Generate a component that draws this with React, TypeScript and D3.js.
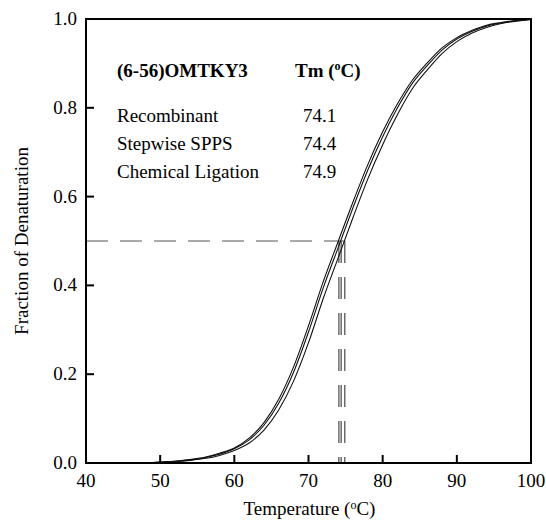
import * as d3 from "d3";
import React from "react";
import { useRef, useEffect } from "react";

// temperatures where the curves were read (ºC)
const temps = [48, 50, 52, 54, 56, 58, 60, 62, 64, 66, 68, 70, 72, 74, 76, 78, 80, 82, 84, 86, 88, 90, 92, 94, 96, 98, 100];

// fraction of denaturation
const recombinant = [0.0, 0.002, 0.004, 0.008, 0.013, 0.022, 0.034, 0.056, 0.091, 0.144, 0.217, 0.309, 0.409, 0.499, 0.588, 0.672, 0.746, 0.809, 0.862, 0.901, 0.935, 0.958, 0.974, 0.986, 0.992, 0.997, 0.999];
const stepwise = [0.0, 0.002, 0.004, 0.007, 0.012, 0.02, 0.032, 0.052, 0.085, 0.135, 0.205, 0.295, 0.395, 0.485, 0.575, 0.66, 0.735, 0.8, 0.855, 0.895, 0.93, 0.955, 0.972, 0.984, 0.991, 0.996, 0.999];
const ligation = [0.0, 0.001, 0.003, 0.006, 0.01, 0.017, 0.028, 0.045, 0.074, 0.12, 0.185, 0.271, 0.371, 0.462, 0.553, 0.64, 0.717, 0.785, 0.843, 0.885, 0.922, 0.949, 0.968, 0.981, 0.99, 0.995, 0.999];

// legend table
const names = ["Recombinant", "Stepwise SPPS", "Chemical Ligation"];
const tms = [74.1, 74.4, 74.9];

const xTicks = [40, 50, 60, 70, 80, 90, 100];
const yTicks = [0, 0.2, 0.4, 0.6, 0.8, 1.0];

const width = 546;
const height = 521;
const margin = { left: 86, right: 15, top: 19, bottom: 58 };

export default function App() {
  const ref = useRef(null);

  useEffect(() => {
    const svg = d3.select(ref.current);
    svg.selectAll("*").remove();
    const font = "'Liberation Serif', 'Times New Roman', serif";
    const fs = 19;

    const x = d3.scaleLinear().domain([40, 100]).range([margin.left, width - margin.right]);
    const y = d3.scaleLinear().domain([0, 1]).range([height - margin.bottom, margin.top]);

    // dashed guide lines at half denaturation
    svg.append("line")
      .attr("x1", x(40)).attr("x2", x(d3.max(tms)))
      .attr("y1", y(0.5)).attr("y2", y(0.5))
      .attr("stroke", "#555").attr("stroke-width", 1)
      .attr("stroke-dasharray", "22,12");
    svg.selectAll(".vdash").data(tms).enter().append("line")
      .attr("class", "vdash")
      .attr("x1", (d) => x(d)).attr("x2", (d) => x(d))
      .attr("y1", y(0.5)).attr("y2", y(0))
      .attr("stroke", "#222").attr("stroke-width", 1)
      .attr("stroke-dasharray", "22,14");

    // curves
    const line = d3.line()
      .x((d) => x(d[0]))
      .y((d) => y(d[1]))
      .curve(d3.curveMonotoneX);
    [recombinant, stepwise, ligation].forEach((vals) => {
      svg.append("path")
        .datum(temps.map((t, i) => [t, vals[i]]))
        .attr("d", line)
        .attr("fill", "none")
        .attr("stroke", "#111")
        .attr("stroke-width", 1.1);
    });

    // frame
    svg.append("rect")
      .attr("x", x(40)).attr("y", y(1))
      .attr("width", x(100) - x(40)).attr("height", y(0) - y(1))
      .attr("fill", "none").attr("stroke", "#000").attr("stroke-width", 2);

    // inward ticks
    const tickLen = 8;
    svg.selectAll(".xt").data(xTicks.slice(1, -1)).enter().append("line")
      .attr("x1", (d) => x(d)).attr("x2", (d) => x(d))
      .attr("y1", y(0)).attr("y2", y(0) - tickLen)
      .attr("stroke", "#000").attr("stroke-width", 2);
    svg.selectAll(".yt").data(yTicks.slice(1, -1)).enter().append("line")
      .attr("x1", x(40)).attr("x2", x(40) + tickLen)
      .attr("y1", (d) => y(d)).attr("y2", (d) => y(d))
      .attr("stroke", "#000").attr("stroke-width", 2);

    // tick labels
    svg.selectAll(".xl").data(xTicks).enter().append("text")
      .attr("x", (d) => x(d)).attr("y", y(0) + 24)
      .attr("text-anchor", "middle")
      .attr("font-family", font).attr("font-size", fs)
      .text((d) => d);
    svg.selectAll(".yl").data(yTicks).enter().append("text")
      .attr("x", x(40) - 9).attr("y", (d) => y(d) + 6)
      .attr("text-anchor", "end")
      .attr("font-family", font).attr("font-size", fs)
      .text((d) => d3.format(".1f")(d));

    // axis titles
    const xt = svg.append("text")
      .attr("x", (x(40) + x(100)) / 2 + 1).attr("y", 515)
      .attr("text-anchor", "middle")
      .attr("font-family", font).attr("font-size", fs);
    xt.append("tspan").text("Temperature (");
    xt.append("tspan").attr("font-size", 12).attr("dy", -6).text("o");
    xt.append("tspan").attr("dy", 6).text("C)");

    svg.append("text")
      .attr("transform", `translate(28,${(y(0) + y(1)) / 2}) rotate(-90)`)
      .attr("text-anchor", "middle")
      .attr("font-family", font).attr("font-size", fs)
      .text("Fraction of Denaturation");

    // legend table
    svg.append("text")
      .attr("x", 117).attr("y", 77)
      .attr("font-family", font).attr("font-size", fs).attr("font-weight", "bold")
      .text("(6-56)OMTKY3");
    const tm = svg.append("text")
      .attr("x", 295).attr("y", 77)
      .attr("font-family", font).attr("font-size", fs).attr("font-weight", "bold");
    tm.append("tspan").text("Tm (");
    tm.append("tspan").attr("font-size", 12).attr("dy", -7).text("o");
    tm.append("tspan").attr("dy", 7).text("C)");

    names.forEach((n, i) => {
      svg.append("text")
        .attr("x", 117).attr("y", 122 + i * 28)
        .attr("font-family", font).attr("font-size", fs)
        .text(n);
      svg.append("text")
        .attr("x", 303).attr("y", 122 + i * 28)
        .attr("font-family", font).attr("font-size", fs)
        .text(tms[i].toFixed(1));
    });
  }, []);

  return (
    <svg
      ref={ref}
      width={width}
      height={height}
      style={{ position: "absolute", left: 0, top: 0, background: "#fff" }}
    />
  );
}
